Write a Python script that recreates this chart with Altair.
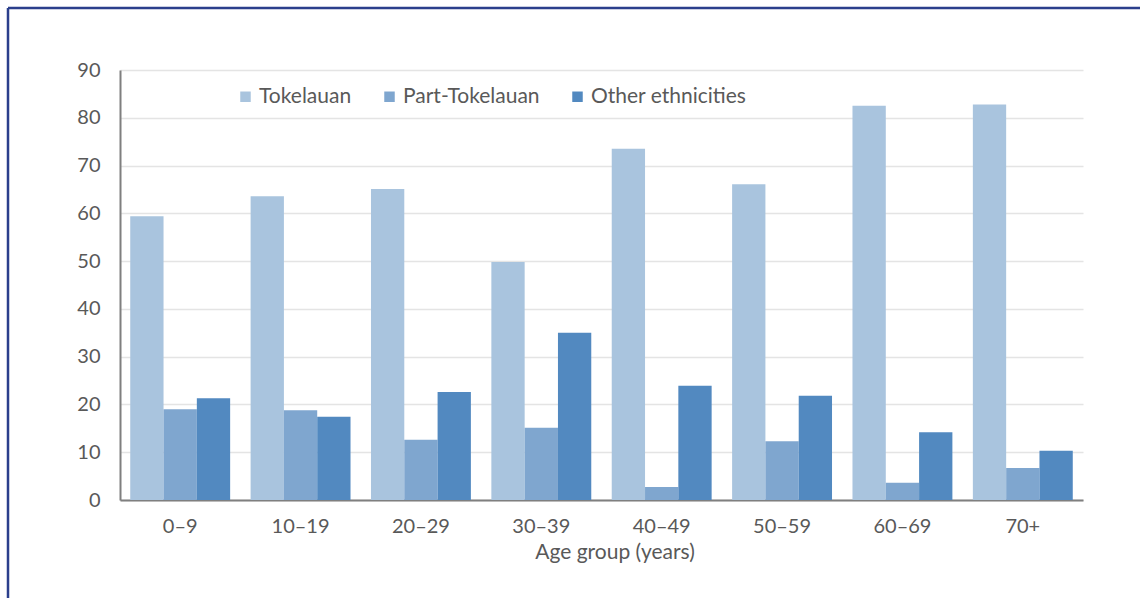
import altair as alt
import pandas as pd

age_groups = ["0–9", "10–19", "20–29", "30–39", "40–49", "50–59", "60–69", "70+"]
series = ["Tokelauan", "Part-Tokelauan", "Other ethnicities"]
tokelauan = [59.4, 63.6, 65.1, 49.8, 73.5, 66.1, 82.5, 82.8]
part_tokelauan = [19.0, 18.8, 12.6, 15.1, 2.7, 12.3, 3.6, 6.7]
other_ethnicities = [21.3, 17.4, 22.6, 35.0, 23.9, 21.8, 14.2, 10.3]
colors = ["#A9C4DE", "#7FA6CF", "#5289C0"]

rows = []
for name, vals in zip(series, [tokelauan, part_tokelauan, other_ethnicities]):
    for g, v in zip(age_groups, vals):
        rows.append({"age": g, "group": name, "value": v})
df = pd.DataFrame(rows)

W, H = 963, 430
PAD_L, PAD_T, PAD_R, PAD_B = 120, 70, 57, 98
FONT = "Lato"
GRAY = "#595959"

bars = alt.Chart(df).mark_bar(opacity=1).encode(
    x=alt.X("age:N", sort=age_groups,
            scale=alt.Scale(paddingInner=0.17, paddingOuter=0.085),
            axis=alt.Axis(title="Age group (years)", labelAngle=0, ticks=False,
                          domainColor="#7F7F7F", domainWidth=2,
                          labelPadding=16, titlePadding=5, titleX=W / 2 + 13,
                          labelFont=FONT, labelFontSize=20, labelColor=GRAY,
                          titleFont=FONT, titleFontSize=21, titleColor=GRAY,
                          titleFontWeight="normal")),
    xOffset=alt.XOffset("group:N", sort=series),
    y=alt.Y("value:Q", scale=alt.Scale(domain=[0, 90], nice=False),
            axis=alt.Axis(title=None, values=list(range(0, 100, 10)), ticks=False,
                          domainColor="#7F7F7F", domainWidth=2, labelPadding=20,
                          gridColor="#E4E4E4", gridWidth=1.5,
                          labelFont=FONT, labelFontSize=20, labelColor=GRAY)),
    color=alt.Color("group:N", sort=series,
                    scale=alt.Scale(domain=series, range=colors),
                    legend=alt.Legend(title=None, orient="none", direction="horizontal",
                                      legendX=115, legendY=16, symbolType="square",
                                      symbolSize=110, symbolStrokeWidth=0,
                                      labelOffset=3, labelFontSize=21, labelColor=GRAY,
                                      labelFont=FONT, columnPadding=27)),
)

border_df = pd.DataFrame({"k": [0]})
top_border = alt.Chart(border_df).mark_rule(color="#2B3F8C", strokeWidth=2.5).encode(
    x=alt.value(-PAD_L + 8), x2=alt.value(W + PAD_R + 10), y=alt.value(-PAD_T + 8))
left_border = alt.Chart(border_df).mark_rule(color="#2B3F8C", strokeWidth=2.5).encode(
    x=alt.value(-PAD_L + 8), y=alt.value(-PAD_T + 8), y2=alt.value(H + PAD_B + 10))

chart = alt.layer(bars, top_border, left_border).properties(
    width=W, height=H,
    autosize=alt.AutoSizeParams(type="none"),
    padding={"left": PAD_L, "top": PAD_T, "right": PAD_R, "bottom": PAD_B},
    background="white",
).configure_view(stroke=None)

chart.save("out.html", embed_options={"renderer": "svg", "actions": False})
